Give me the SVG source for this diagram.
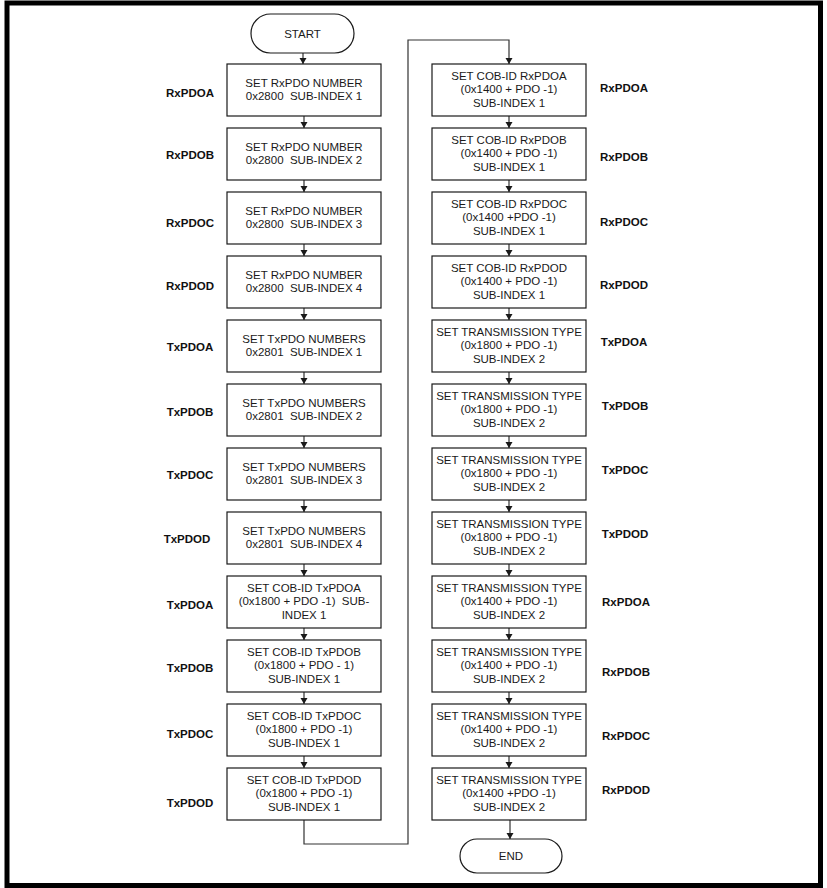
<svg xmlns="http://www.w3.org/2000/svg" width="827" height="888" viewBox="0 0 827 888">
<defs>
<style>
.frame{fill:none;stroke:#000;stroke-width:5}
.box{fill:#fff;stroke:#1a1a1a;stroke-width:1.2}
.t{font-family:"Liberation Sans",Arial,sans-serif;font-size:11.5px;fill:#1a1a1a;text-anchor:middle}
.lbl{font-family:"Liberation Sans",Arial,sans-serif;font-size:11.5px;font-weight:bold;fill:#111;text-anchor:middle}
.c{fill:none;stroke:#333;stroke-width:1.2}
</style>
<marker id="ah" markerUnits="userSpaceOnUse" markerWidth="8" markerHeight="8" refX="6" refY="3.5" orient="auto">
<path d="M0,0 L6,3.5 L0,7 z" fill="#1a1a1a"/>
</marker>
</defs>
<rect width="827" height="888" fill="#fff"/>
<rect class="frame" x="7" y="3" width="813.5" height="882.5"/>

<g id="connectors">
<path class="c" d="M303,53 V64" marker-end="url(#ah)"/>
<path class="c" d="M304,116 V128" marker-end="url(#ah)"/>
<path class="c" d="M304,180 V192" marker-end="url(#ah)"/>
<path class="c" d="M304,244 V256" marker-end="url(#ah)"/>
<path class="c" d="M304,308 V320" marker-end="url(#ah)"/>
<path class="c" d="M304,372 V384" marker-end="url(#ah)"/>
<path class="c" d="M304,436 V448" marker-end="url(#ah)"/>
<path class="c" d="M304,500 V512" marker-end="url(#ah)"/>
<path class="c" d="M304,564 V576" marker-end="url(#ah)"/>
<path class="c" d="M304,628 V640" marker-end="url(#ah)"/>
<path class="c" d="M304,692 V704" marker-end="url(#ah)"/>
<path class="c" d="M304,756 V768" marker-end="url(#ah)"/>
<path class="c" d="M304,820 V844 H408 V40 H509 V64" marker-end="url(#ah)"/>
<path class="c" d="M509,116 V128" marker-end="url(#ah)"/>
<path class="c" d="M509,180 V192" marker-end="url(#ah)"/>
<path class="c" d="M509,244 V256" marker-end="url(#ah)"/>
<path class="c" d="M509,308 V320" marker-end="url(#ah)"/>
<path class="c" d="M509,372 V384" marker-end="url(#ah)"/>
<path class="c" d="M509,436 V448" marker-end="url(#ah)"/>
<path class="c" d="M509,500 V512" marker-end="url(#ah)"/>
<path class="c" d="M509,564 V576" marker-end="url(#ah)"/>
<path class="c" d="M509,628 V640" marker-end="url(#ah)"/>
<path class="c" d="M509,692 V704" marker-end="url(#ah)"/>
<path class="c" d="M509,756 V768" marker-end="url(#ah)"/>
<path class="c" d="M510,820 V839" marker-end="url(#ah)"/>
</g>

<g id="start"><rect class="box" x="251" y="14" width="103" height="39" rx="19.5"/><text class="t" x="302.5" y="37.5">START</text></g>

<g id="L1"><rect class="box" x="227" y="64" width="154" height="52"/><text class="t" x="304" y="87">SET RxPDO NUMBER</text><text class="t" x="304" y="99.5" xml:space="preserve">0x2800  SUB-INDEX 1</text></g>
<g id="L2"><rect class="box" x="227" y="128" width="154" height="52"/><text class="t" x="304" y="151">SET RxPDO NUMBER</text><text class="t" x="304" y="163.5" xml:space="preserve">0x2800  SUB-INDEX 2</text></g>
<g id="L3"><rect class="box" x="227" y="192" width="154" height="52"/><text class="t" x="304" y="215">SET RxPDO NUMBER</text><text class="t" x="304" y="227.5" xml:space="preserve">0x2800  SUB-INDEX 3</text></g>
<g id="L4"><rect class="box" x="227" y="256" width="154" height="52"/><text class="t" x="304" y="279">SET RxPDO NUMBER</text><text class="t" x="304" y="291.5" xml:space="preserve">0x2800  SUB-INDEX 4</text></g>
<g id="L5"><rect class="box" x="227" y="320" width="154" height="52"/><text class="t" x="304" y="343">SET TxPDO NUMBERS</text><text class="t" x="304" y="355.5" xml:space="preserve">0x2801  SUB-INDEX 1</text></g>
<g id="L6"><rect class="box" x="227" y="384" width="154" height="52"/><text class="t" x="304" y="407">SET TxPDO NUMBERS</text><text class="t" x="304" y="419.5" xml:space="preserve">0x2801  SUB-INDEX 2</text></g>
<g id="L7"><rect class="box" x="227" y="448" width="154" height="52"/><text class="t" x="304" y="471">SET TxPDO NUMBERS</text><text class="t" x="304" y="483.5" xml:space="preserve">0x2801  SUB-INDEX 3</text></g>
<g id="L8"><rect class="box" x="227" y="512" width="154" height="52"/><text class="t" x="304" y="535">SET TxPDO NUMBERS</text><text class="t" x="304" y="547.5" xml:space="preserve">0x2801  SUB-INDEX 4</text></g>
<g id="L9"><rect class="box" x="227" y="576" width="154" height="52"/><text class="t" x="304" y="592">SET COB-ID TxPDOA</text><text class="t" x="304" y="605" xml:space="preserve">(0x1800 + PDO -1)  SUB-</text><text class="t" x="304" y="618.5">INDEX 1</text></g>
<g id="L10"><rect class="box" x="227" y="640" width="154" height="52"/><text class="t" x="304" y="656">SET COB-ID TxPDOB</text><text class="t" x="304" y="669">(0x1800 + PDO - 1)</text><text class="t" x="304" y="682.5">SUB-INDEX 1</text></g>
<g id="L11"><rect class="box" x="227" y="704" width="154" height="52"/><text class="t" x="304" y="720">SET COB-ID TxPDOC</text><text class="t" x="304" y="733">(0x1800 + PDO -1)</text><text class="t" x="304" y="746.5">SUB-INDEX 1</text></g>
<g id="L12"><rect class="box" x="227" y="768" width="154" height="52"/><text class="t" x="304" y="784">SET COB-ID TxPDOD</text><text class="t" x="304" y="797">(0x1800 + PDO -1)</text><text class="t" x="304" y="810.5">SUB-INDEX 1</text></g>

<g id="R1"><rect class="box" x="432" y="64" width="154" height="52"/><text class="t" x="509" y="80">SET COB-ID RxPDOA</text><text class="t" x="509" y="93">(0x1400 + PDO -1)</text><text class="t" x="509" y="106.5">SUB-INDEX 1</text></g>
<g id="R2"><rect class="box" x="432" y="128" width="154" height="52"/><text class="t" x="509" y="144">SET COB-ID RxPDOB</text><text class="t" x="509" y="157">(0x1400 + PDO -1)</text><text class="t" x="509" y="170.5">SUB-INDEX 1</text></g>
<g id="R3"><rect class="box" x="432" y="192" width="154" height="52"/><text class="t" x="509" y="208">SET COB-ID RxPDOC</text><text class="t" x="509" y="221">(0x1400 +PDO -1)</text><text class="t" x="509" y="234.5">SUB-INDEX 1</text></g>
<g id="R4"><rect class="box" x="432" y="256" width="154" height="52"/><text class="t" x="509" y="272">SET COB-ID RxPDOD</text><text class="t" x="509" y="285">(0x1400 + PDO -1)</text><text class="t" x="509" y="298.5">SUB-INDEX 1</text></g>
<g id="R5"><rect class="box" x="432" y="320" width="154" height="52"/><text class="t" x="509" y="336">SET TRANSMISSION TYPE</text><text class="t" x="509" y="349">(0x1800 + PDO -1)</text><text class="t" x="509" y="362.5">SUB-INDEX 2</text></g>
<g id="R6"><rect class="box" x="432" y="384" width="154" height="52"/><text class="t" x="509" y="400">SET TRANSMISSION TYPE</text><text class="t" x="509" y="413">(0x1800 + PDO -1)</text><text class="t" x="509" y="426.5">SUB-INDEX 2</text></g>
<g id="R7"><rect class="box" x="432" y="448" width="154" height="52"/><text class="t" x="509" y="464">SET TRANSMISSION TYPE</text><text class="t" x="509" y="477">(0x1800 + PDO -1)</text><text class="t" x="509" y="490.5">SUB-INDEX 2</text></g>
<g id="R8"><rect class="box" x="432" y="512" width="154" height="52"/><text class="t" x="509" y="528">SET TRANSMISSION TYPE</text><text class="t" x="509" y="541">(0x1800 + PDO -1)</text><text class="t" x="509" y="554.5">SUB-INDEX 2</text></g>
<g id="R9"><rect class="box" x="432" y="576" width="154" height="52"/><text class="t" x="509" y="592">SET TRANSMISSION TYPE</text><text class="t" x="509" y="605">(0x1400 + PDO -1)</text><text class="t" x="509" y="618.5">SUB-INDEX 2</text></g>
<g id="R10"><rect class="box" x="432" y="640" width="154" height="52"/><text class="t" x="509" y="656">SET TRANSMISSION TYPE</text><text class="t" x="509" y="669">(0x1400 + PDO -1)</text><text class="t" x="509" y="682.5">SUB-INDEX 2</text></g>
<g id="R11"><rect class="box" x="432" y="704" width="154" height="52"/><text class="t" x="509" y="720">SET TRANSMISSION TYPE</text><text class="t" x="509" y="733">(0x1400 + PDO -1)</text><text class="t" x="509" y="746.5">SUB-INDEX 2</text></g>
<g id="R12"><rect class="box" x="432" y="768" width="154" height="52"/><text class="t" x="509" y="784">SET TRANSMISSION TYPE</text><text class="t" x="509" y="797">(0x1400 +PDO -1)</text><text class="t" x="509" y="810.5">SUB-INDEX 2</text></g>

<g id="end"><rect class="box" x="460" y="839" width="102" height="34" rx="17"/><text class="t" x="511" y="860">END</text></g>

<g id="labels-left">
<text class="lbl" x="190" y="97">RxPDOA</text>
<text class="lbl" x="190" y="159">RxPDOB</text>
<text class="lbl" x="190" y="227">RxPDOC</text>
<text class="lbl" x="190" y="290">RxPDOD</text>
<text class="lbl" x="190" y="351">TxPDOA</text>
<text class="lbl" x="190" y="416">TxPDOB</text>
<text class="lbl" x="190" y="479">TxPDOC</text>
<text class="lbl" x="187" y="543">TxPDOD</text>
<text class="lbl" x="190" y="609">TxPDOA</text>
<text class="lbl" x="190" y="672">TxPDOB</text>
<text class="lbl" x="190" y="738">TxPDOC</text>
<text class="lbl" x="190" y="807">TxPDOD</text>
</g>
<g id="labels-right">
<text class="lbl" x="624" y="92">RxPDOA</text>
<text class="lbl" x="624" y="161">RxPDOB</text>
<text class="lbl" x="624" y="226">RxPDOC</text>
<text class="lbl" x="624" y="289">RxPDOD</text>
<text class="lbl" x="624" y="346">TxPDOA</text>
<text class="lbl" x="625" y="410">TxPDOB</text>
<text class="lbl" x="625" y="474">TxPDOC</text>
<text class="lbl" x="625" y="538">TxPDOD</text>
<text class="lbl" x="626" y="606">RxPDOA</text>
<text class="lbl" x="626" y="676">RxPDOB</text>
<text class="lbl" x="626" y="740">RxPDOC</text>
<text class="lbl" x="626" y="794">RxPDOD</text>
</g>
</svg>
